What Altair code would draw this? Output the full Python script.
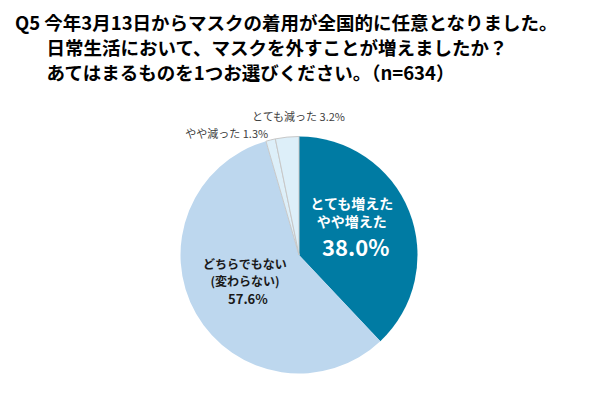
import math
import altair as alt
import pandas as pd

# ---- data ----
categories = ["とても増えた・やや増えた", "どちらでもない（変わらない）", "やや減った", "とても減った"]
values = [38.0, 57.6, 1.3, 3.2]
label_names = ["とても増えた\nやや増えた", "どちらでもない\n(変わらない)", "やや減った", "とても減った"]
slice_order = [0, 1, 2, 3]
colors = ["#007BA3", "#BDD7EE", "#DDEFF9", "#DDEFF9"]
INDENT = "\u200B\u3000\u2002\u2009"
title_lines = [
    "Q5 今年3月13日からマスクの着用が全国的に任意となりました。",
    INDENT + "日常生活において、マスクを外すことが増えましたか？",
    INDENT + "あてはまるものを1つお選びください。（n=634）",
]

FONT = "Noto Sans CJK JP"
total = sum(values)

df = pd.DataFrame({"category": categories, "value": values,
                   "name": label_names, "order": slice_order})

base = (
    alt.Chart(df)
    .transform_window(cum="sum(value)", sort=[alt.SortField("order")], frame=[None, 0])
    .transform_calculate(
        start="datum.cum - datum.value",
        mid="datum.cum - datum.value / 2",
        pct="format(datum.value, '.1f') + '%'",
        small="datum.name + ' ' + format(datum.value, '.1f') + '%'",
    )
)

theta_scale = alt.Scale(domain=[0, total], range=[0, 2 * math.pi])
cx, cy = 284, 162
R = 118.5

arc = base.mark_arc(outerRadius=R, strokeWidth=1).encode(
    theta=alt.Theta("start:Q", scale=theta_scale),
    theta2="cum:Q",
    color=alt.Color("category:N", scale=alt.Scale(domain=categories, range=colors), legend=None),
    stroke=alt.condition("datum.order >= 2", alt.value("#C8C8C8"), alt.value("transparent")),
    x=alt.value(cx), y=alt.value(cy),
)

def txt(filter_expr, field, radius, dx, dy, size, weight, color, lh=None):
    kw = dict(radius=radius, dx=dx, dy=dy, font=FONT, fontSize=size, fontWeight=weight,
              color=color, align="center", baseline="middle", lineBreak="\n")
    if lh:
        kw["lineHeight"] = lh
    return base.transform_filter(filter_expr).mark_text(**kw).encode(
        theta=alt.Theta("mid:Q", scale=theta_scale),
        text=f"{field}:N",
        x=alt.value(cx), y=alt.value(cy),
    )

layers = [
    arc,
    txt("datum.order == 0", "name", 60, -3, -28, 14, "bold", "white", 18),
    txt("datum.order == 0", "pct", 60, 1, 16, 22, "bold", "white"),
    txt("datum.order == 1", "name", 60, -2, -20, 12, "bold", "#1a1a1a", 17),
    txt("datum.order == 1", "pct", 60, 1, 15, 13, "bold", "#1a1a1a"),
    txt("datum.order == 2", "small", 135, -40, 11, 11, "normal", "#404040"),
    txt("datum.order == 3", "small", 135, 13, -3, 11, "normal", "#404040"),
]

chart = (
    alt.layer(*layers)
    .properties(
        width=595, height=379,
        autosize=alt.AutoSizeParams(type="fit", contains="padding"),
        padding={"left": 7, "top": 6, "right": 0, "bottom": 0},
        title=alt.Title(text=title_lines, anchor="start", font=FONT, fontSize=18.5,
                        fontWeight="bold", color="#000000", lineHeight=25, offset=10,
                        frame="group"),
    )
    .configure_view(stroke=None)
)

chart.save("out.html", embed_options={"renderer": "svg", "actions": False})
